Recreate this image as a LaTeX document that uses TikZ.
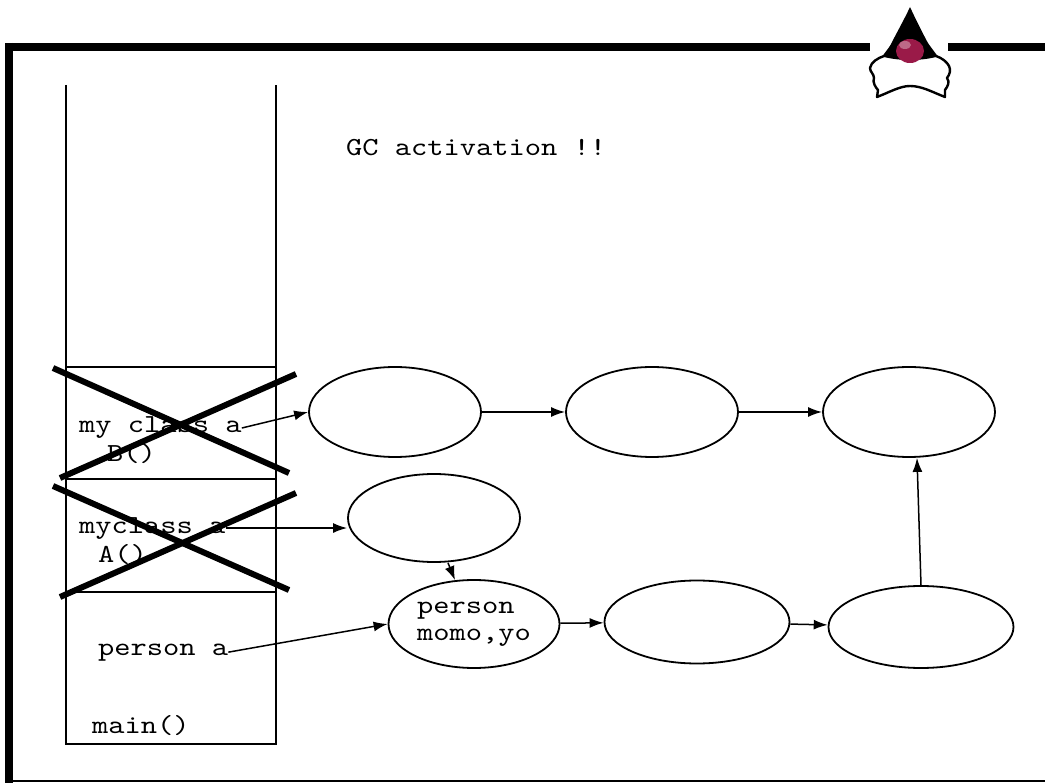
\documentclass[tikz,border=0pt]{standalone}
\usepackage{fontspec}
\newfontfamily\courier[FakeStretch=1.19]{lmmono10-regular.otf}
\usetikzlibrary{shapes.geometric, arrows.meta}
\definecolor{dukered}{HTML}{9A1A48}
\tikzstyle{obj} = [ellipse, minimum width=172pt, minimum height=88pt, inner sep=0pt, align=left, draw=black, line width=1.8pt]
\tikzstyle{code} = [inner sep=0pt, font=\courier\fontsize{26}{27}\selectfont]
\tikzstyle{arrow} = [line width=1.5pt,-{Latex[length=14pt,width=10pt]}]
\tikzstyle{cross} = [line width=6pt]
\tikzstyle{stack} = [line width=1.8pt]

\begin{document}
\begin{tikzpicture}[x=1pt, y=-1pt, node distance=257pt]
	\useasboundingbox (0,0) rectangle (1045,783);
	% frame
	\draw [line width=8pt] (5,47) -- (870,47);
	\draw [line width=8pt] (948,47) -- (1045,47);
	\draw [line width=8pt] (9,43) -- (9,783);
	\draw [line width=2pt] (5,781) -- (1045,781);
	% duke
	\draw [fill=white, line width=2.4pt, line join=round] (893,44) -- (884,56) .. controls (878,58) and (871,62) .. (870,68) .. controls (870,72) and (874,74) .. (874,78) .. controls (872,82) and (876,88) .. (878,90) -- (877,97) .. controls (890,92) and (900,86) .. (910,86) .. controls (922,86) and (932,92) .. (945,97) -- (945,90) .. controls (948,86) and (950,82) .. (947,78) .. controls (950,74) and (951,70) .. (949,66) .. controls (947,62) and (942,58) .. (936,56) -- (927,44) -- cycle;
	\fill [black] (910,7) .. controls (904,20) and (897,32) .. (890,46) .. controls (887,52) and (884,57) .. (884,57) .. controls (900,61) and (920,61) .. (936,57) .. controls (934,52) and (931,48) .. (929,45) .. controls (922,32) and (916,20) .. (910,7) -- cycle;
	\fill [dukered] (910,51) ellipse [x radius=14pt, y radius=12pt];
	\fill [white, opacity=0.35] (905,45) ellipse [x radius=6pt, y radius=4pt];
	% stack
	\draw [stack] (66,85) -- (66,744) -- (276,744) -- (276,85);
	\draw [stack] (66,367) -- (276,367);
	\draw [stack] (66,479) -- (276,479);
	\draw [stack] (66,592) -- (276,592);
	\node (mcb) [code, anchor=base west] at (79,433) {my class a};
	\node (bcall) [code, anchor=base west] at (107,462) {B()};
	\node (mca) [code, anchor=base west] at (79,533) {myclass a};
	\node (acall) [code, anchor=base west] at (98,562) {A()};
	\node (pa) [code, anchor=base west] at (98,655) {person a};
	\node (mn) [code, anchor=base west] at (92,733) {main()};
	\node (gc) [code, anchor=base west] at (346,156) {GC activation !!};
	% heap
	\node (b1) [obj, minimum height=90pt] at (395,412) {};
	\node (b2) [obj, minimum height=90pt, right of=b1] {};
	\node (b3) [obj, minimum height=90pt, right of=b2] {};
	\node (a1) [obj] at (434,518) {};
	\node (p) [obj, code, minimum width=171pt] at (474,624) {person\\momo,yo};
	\node (p1) [obj, minimum width=185pt, minimum height=83pt] at (697,622) {};
	\node (p2) [obj, minimum width=185pt, minimum height=82pt] at (921,627) {};
	\draw [arrow] (mcb.east) -- (b1.west);
	\draw [arrow] (b1) -- (b2);
	\draw [arrow] (b2) -- (b3);
	\draw [arrow] (mca.east) -- (a1.west |- mca.east);
	\draw [arrow] ([xshift=14pt]a1.south) -- ([xshift=-19pt,yshift=-1pt]p.north);
	\draw [arrow] (pa.east) -- (p.west);
	\draw [arrow] (p) -- (p1);
	\draw [arrow] (p1) -- (p2);
	\draw [arrow] (p2.north) -- ([xshift=8pt]b3.south);
	% crossed out frames
	\draw [cross] (53,368) -- (289,473);
	\draw [cross] (60,478) -- (296,374);
	\draw [cross] (53,486) -- (289,590);
	\draw [cross] (60,597) -- (296,493);
\end{tikzpicture}
\end{document}
